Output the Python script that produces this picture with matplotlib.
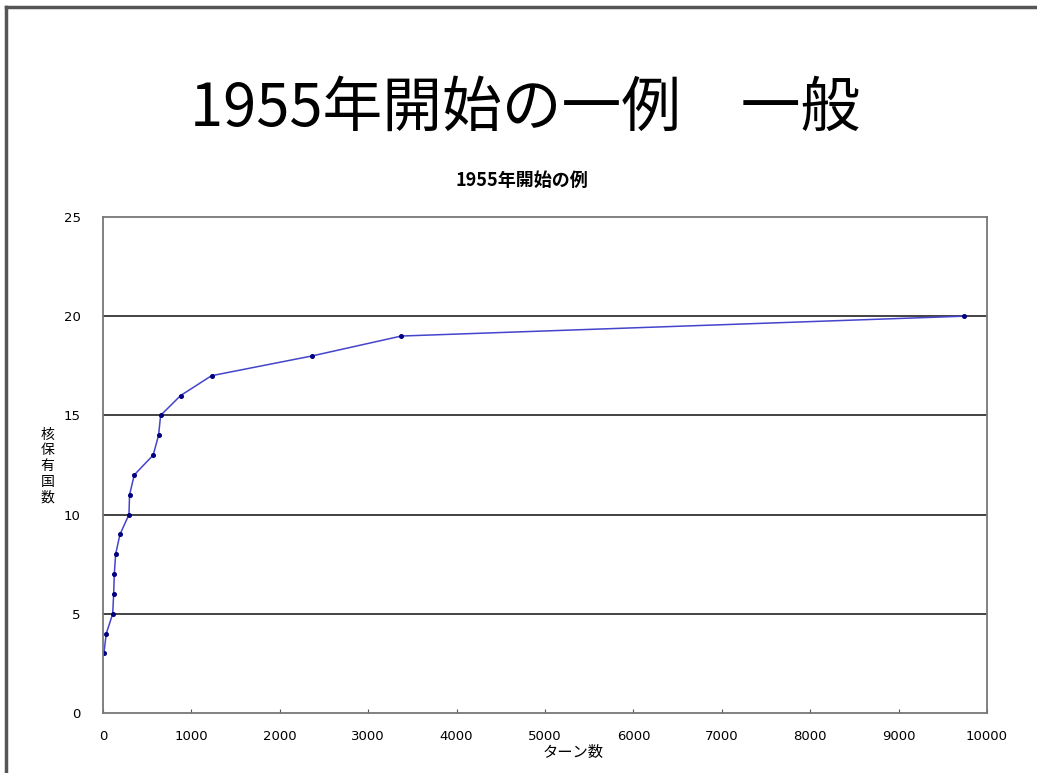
import matplotlib
matplotlib.use("Agg")
import matplotlib.pyplot as plt
from matplotlib.lines import Line2D

plt.rcParams['font.family'] = ['Noto Sans CJK JP', 'DejaVu Sans']

# turns until the n-th country holds nuclear weapons
turns = [10, 37, 110, 121, 128, 143, 192, 294, 301, 354, 568, 629, 652,
         878, 1228, 2369, 3375, 9740]
countries = [3, 4, 5, 6, 7, 8, 9, 10, 11, 12, 13, 14, 15,
             16, 17, 18, 19, 20]

x_ticks = [0, 1000, 2000, 3000, 4000, 5000, 6000, 7000, 8000, 9000, 10000]
y_ticks = [0, 5, 10, 15, 20, 25]

fig = plt.figure(figsize=(10.37, 7.73), dpi=100)

# slide border (top and left only)
fig.add_artist(Line2D([0.006, 1.0], [0.991, 0.991], color='#555555', lw=2.5))
fig.add_artist(Line2D([0.006, 0.006], [0.0, 0.991], color='#555555', lw=2.5))

fig.text(0.506, 0.858, '1955年開始の一例\u3000一般', ha='center', va='center',
         fontsize=43, color='black')

ax = fig.add_axes([0.0993, 0.0776, 0.8525, 0.6417])
ax.plot(turns, countries, color='#4444cc', lw=1.1, marker='o',
        markersize=2.6, markerfacecolor='#000080', markeredgecolor='#000080')

ax.set_xlim(0, 10000)
ax.set_ylim(0, 25)
ax.set_xticks(x_ticks)
ax.set_yticks(y_ticks)
ax.tick_params(axis='both', labelsize=9.5, direction='in', length=3,
               color='#555555')
ax.tick_params(axis='x', pad=12)
ax.tick_params(axis='y', pad=16, length=0)
for lbl in ax.get_xticklabels() + ax.get_yticklabels():
    lbl.set_family('DejaVu Sans')

for v in [5, 10, 15, 20]:
    ax.axhline(v, color='#222222', lw=1.2, zorder=0)
for s in ax.spines.values():
    s.set_color('#777777')
    s.set_linewidth(1.3)

fig.text(0.503, 0.767, '1955年開始の例', ha='center', va='center',
         fontsize=13, fontweight='bold')
ax.set_xlabel('ターン数', fontsize=11)
ax.xaxis.set_label_coords(0.532, -0.062)
fig.text(0.046, 0.397, '\n'.join('核保有国数'), ha='center', va='center',
         fontsize=10, linespacing=1.15)

fig.savefig('out.png', dpi=100)
